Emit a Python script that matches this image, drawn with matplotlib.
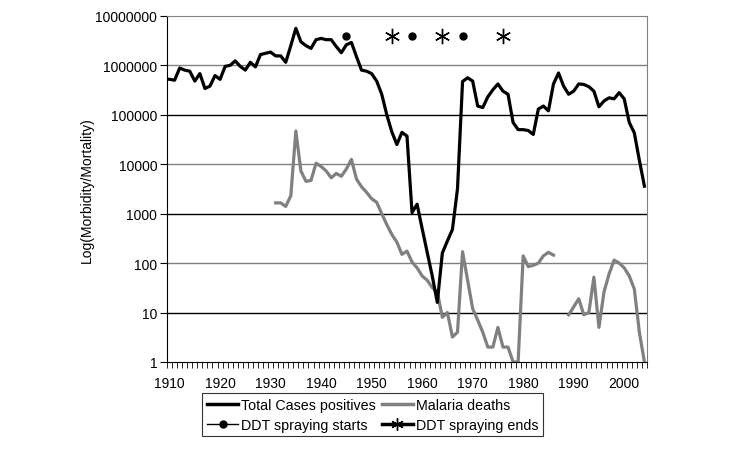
import numpy as np
import matplotlib.pyplot as plt
from matplotlib.lines import Line2D

plt.rcParams['font.family'] = ['Liberation Sans', 'DejaVu Sans']

years = list(range(1910, 2005))

total_cases = [
    520000, 500000, 880000, 800000, 760000, 480000, 680000, 340000, 380000, 620000,
    520000, 950000, 1000000, 1230000, 950000, 800000, 1150000, 930000, 1650000, 1750000,
    1850000, 1550000, 1550000, 1150000, 2500000, 5600000, 3000000, 2500000, 2200000, 3300000,
    3500000, 3300000, 3300000, 2400000, 1800000, 2600000, 2900000, 1500000, 800000, 760000,
    680000, 480000, 260000, 100000, 45000, 25000, 44000, 37000, 1050, 1550,
    500, 165, 55, 16, 160, 280, 480, 3200, 470000, 560000,
    480000, 150000, 140000, 230000, 320000, 420000, 300000, 260000, 70000, 50000,
    50000, 48000, 40000, 130000, 150000, 120000, 420000, 700000, 380000, 260000,
    300000, 420000, 410000, 370000, 300000, 145000, 190000, 220000, 210000, 280000,
    210000, 70000, 43000, 12000, 3600,
]

nan = np.nan
malaria_deaths = [
    nan, nan, nan, nan, nan, nan, nan, nan, nan, nan,
    nan, nan, nan, nan, nan, nan, nan, nan, nan, nan,
    nan, 1650, 1650, 1400, 2300, 47000, 7300, 4500, 4700, 10500,
    9000, 7300, 5300, 6500, 5700, 8000, 12500, 5000, 3500, 2700,
    2000, 1700, 1000, 600, 380, 265, 150, 175, 105, 80,
    55, 45, 32, 26, 8, 10, 3.2, 4, 170, 45,
    12, 7, 4, 2, 2, 5, 2, 2, 1, 1,
    140, 85, 90, 100, 140, 165, 145, nan, nan, 9,
    13, 19, 9, 10, 52, 5, 26, 60, 115, 100,
    80, 55, 30, 4, 1,
]

ddt_starts = [1945, 1958, 1968]
ddt_ends = [1954, 1964, 1976]
marker_level = 4000000

fig = plt.figure(figsize=(7.31, 4.56), dpi=100)
ax = fig.add_axes([0.2285, 0.204, 0.6565, 0.759])

# gridlines, alternating like the original export
for e in range(1, 7):
    ax.axhline(10 ** e, color='#808080' if e % 2 == 0 else 'black', lw=1, zorder=1)

ax.plot(years, total_cases, color='black', lw=2.3, solid_joinstyle='round', zorder=3)
ax.plot(years, malaria_deaths, color='#808080', lw=2.3, solid_joinstyle='round', zorder=2)
ax.plot(ddt_starts, [marker_level] * len(ddt_starts), 'o', color='black', ms=5, zorder=4)
ax.plot(ddt_ends, [marker_level] * len(ddt_ends), ls='none', marker=(6, 2, 0),
        color='black', ms=11, mew=1, zorder=4)

ax.set_yscale('log')
ax.set_ylim(1, 10000000)
ax.set_xlim(1909.5, 2004.5)
ax.set_yticks([10 ** e for e in range(0, 8)])
ax.set_yticklabels([str(10 ** e) for e in range(0, 8)])
ax.yaxis.set_minor_locator(plt.NullLocator())
ax.set_xticks(range(1910, 2001, 10))
ax.set_xticks(np.arange(1909.5, 2005, 1), minor=True)
ax.tick_params(axis='x', which='major', length=0, labelsize=10, pad=10)
ax.tick_params(axis='x', which='minor', length=4, direction='out')
ax.tick_params(axis='y', length=5, direction='out', labelsize=10, pad=2)

for side in ['top', 'right']:
    ax.spines[side].set_color('#808080')
ax.set_ylabel('Log(Morbidity/Mortality)', fontsize=10, labelpad=1)

# legend filled column by column, so order gives rows: cases|deaths, starts|ends
handles = [
    Line2D([], [], color='black', lw=2.5),
    Line2D([], [], color='black', lw=1, marker='o', ms=5),
    Line2D([], [], color='#808080', lw=2.5),
    Line2D([], [], color='black', lw=2.5, marker=(6, 2, 0), ms=9, mew=1),
]
labels = ['Total Cases positives', 'DDT spraying starts', 'Malaria deaths', 'DDT spraying ends']
leg = fig.legend(handles, labels, loc='upper left', bbox_to_anchor=(0.277, 0.135), ncol=2,
                 fontsize=10.3, frameon=True, fancybox=False, edgecolor='black',
                 handlelength=2.2, handletextpad=0.2, columnspacing=0.4,
                 borderpad=0.3, labelspacing=0.45, borderaxespad=0)
leg.get_frame().set_linewidth(0.8)

fig.savefig('out.png', dpi=100)
